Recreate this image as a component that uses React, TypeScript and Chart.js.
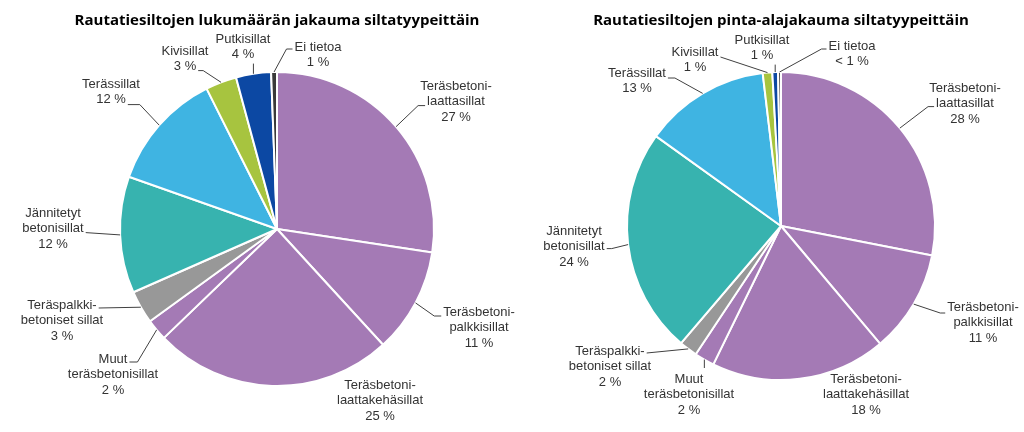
import React, { useEffect, useRef } from "react";
import { Chart, registerables } from "chart.js";

Chart.register(...registerables);

// ---- Data ----
const categories = [
  "Teräsbetonilaattasillat",
  "Teräsbetonipalkkisillat",
  "Teräsbetonilaattakehäsillat",
  "Muut teräsbetonisillat",
  "Teräspalkkibetoniset sillat",
  "Jännitetyt betonisillat",
  "Terässillat",
  "Kivisillat",
  "Putkisillat",
  "Ei tietoa",
];

const categoryLabelLines = [
  ["Teräsbetoni-", "laattasillat"],
  ["Teräsbetoni-", "palkkisillat"],
  ["Teräsbetoni-", "laattakehäsillat"],
  ["Muut", "teräsbetonisillat"],
  ["Teräspalkki-", "betoniset sillat"],
  ["Jännitetyt", "betonisillat"],
  ["Terässillat"],
  ["Kivisillat"],
  ["Putkisillat"],
  ["Ei tietoa"],
];

const countShares = [27.4, 10.8, 24.6, 2.2, 3.4, 12.0, 12.2, 3.2, 3.6, 0.6];
const countPercentLabels = ["27 %", "11 %", "25 %", "2 %", "3 %", "12 %", "12 %", "3 %", "4 %", "1 %"];

const areaShares = [28.1, 10.8, 18.4, 2.1, 1.9, 23.7, 13.2, 1.0, 0.6, 0.3];
const areaPercentLabels = ["28 %", "11 %", "18 %", "2 %", "2 %", "24 %", "13 %", "1 %", "1 %", "< 1 %"];

const countTitle = "Rautatiesiltojen lukumäärän jakauma siltatyypeittäin";
const areaTitle = "Rautatiesiltojen pinta-alajakauma siltatyypeittäin";

// ---- Styles ----
const PURPLE = "#A47AB5";
const sliceColors = [
  PURPLE,
  PURPLE,
  PURPLE,
  PURPLE,
  "#989898",
  "#37B3AF",
  "#3FB4E2",
  "#A7C43F",
  "#0C48A3",
  "#3A3A3A",
];

const LABEL_FONT = "13px 'Liberation Sans', Arial, sans-serif";
const LABEL_COLOR = "#333333";
const LINE_H = 15.6;

type Placement = {
  dx: number; // label first-line centre, relative to pie centre
  dy: number;
  side: "L" | "R" | "T" | "B" | "N";
  line?: number;
  ady?: number;
  elbow?: number;
};

const countPlacements: Placement[] = [
  { dx: 179, dy: -143, side: "L", line: 1, ady: 4, elbow: 7 },
  { dx: 202, dy: 83, side: "L", line: 0, ady: 4, elbow: 7 },
  { dx: 103, dy: 156, side: "N" },
  { dx: -164, dy: 130, side: "R", line: 0, ady: 3, elbow: 8 },
  { dx: -215, dy: 76, side: "R", line: 0, ady: 3, elbow: 0 },
  { dx: -224, dy: -16, side: "R", line: 1, ady: 4, elbow: 0 },
  { dx: -166, dy: -145, side: "R", line: 1, ady: 5, elbow: 12 },
  { dx: -92, dy: -178, side: "R", line: 1, ady: 4, elbow: 5 },
  { dx: -34, dy: -190, side: "B" },
  { dx: 41, dy: -182, side: "L", line: 0, ady: 2, elbow: 6 },
];

const areaPlacements: Placement[] = [
  { dx: 184, dy: -138, side: "L", line: 1, ady: 3, elbow: 6 },
  { dx: 202, dy: 81, side: "L", line: 0, ady: 6, elbow: 5 },
  { dx: 85, dy: 153, side: "N" },
  { dx: -92, dy: 153, side: "T" },
  { dx: -171, dy: 125, side: "R", line: 0, ady: 2, elbow: 0 },
  { dx: -207, dy: 5, side: "R", line: 1, ady: 2, elbow: 5 },
  { dx: -144, dy: -153, side: "R", line: 0, ady: 5, elbow: 7 },
  { dx: -86, dy: -174, side: "R", line: 0, ady: 5, elbow: 0 },
  { dx: -19, dy: -186, side: "B" },
  { dx: 71, dy: -180, side: "L", line: 0, ady: 3, elbow: 5 },
];

const leaderLabelPlugin = {
  id: "leaderLabels",
  afterDatasetsDraw(chart: any, _args: any, opts: any) {
    const ctx: CanvasRenderingContext2D = chart.ctx;
    const meta = chart.getDatasetMeta(0);
    const placements: Placement[] = opts.placements || [];
    const texts: string[][] = opts.texts || [];
    ctx.save();
    ctx.font = LABEL_FONT;
    ctx.fillStyle = LABEL_COLOR;
    ctx.strokeStyle = "#404040";
    ctx.lineWidth = 1;
    ctx.textAlign = "center";
    ctx.textBaseline = "middle";
    meta.data.forEach((arc: any, i: number) => {
      const pl = placements[i];
      const lines = texts[i];
      if (!pl || !lines) return;
      const p = arc.getProps(["x", "y", "startAngle", "endAngle", "outerRadius"], true);
      const mid = (p.startAngle + p.endAngle) / 2;
      const ex = p.x + Math.cos(mid) * p.outerRadius;
      const ey = p.y + Math.sin(mid) * p.outerRadius;
      const tx = p.x + pl.dx;
      const ty = p.y + pl.dy;
      lines.forEach((ln, k) => ctx.fillText(ln, tx, ty + k * LINE_H));
      let pts: [number, number][] = [];
      if (pl.side === "L" || pl.side === "R") {
        const li = pl.line || 0;
        const w = ctx.measureText(lines[li]).width;
        const ly = ty + li * LINE_H + (pl.ady || 0);
        const lx = pl.side === "L" ? tx - w / 2 - 2 : tx + w / 2 + 2;
        const el = pl.elbow || 0;
        pts = [[ex, ey]];
        if (el > 0) pts.push([pl.side === "L" ? lx - el : lx + el, ly]);
        pts.push([lx, ly]);
      } else if (pl.side === "B") {
        pts = [[ex, ey], [ex, ty + (lines.length - 1) * LINE_H + 9]];
      } else if (pl.side === "T") {
        pts = [[ex, ey], [ex, ty - 11]];
      }
      if (pts.length > 1) {
        ctx.beginPath();
        ctx.moveTo(pts[0][0], pts[0][1]);
        for (let k = 1; k < pts.length; k++) ctx.lineTo(pts[k][0], pts[k][1]);
        ctx.stroke();
      }
    });
    ctx.restore();
  },
};

function PieChart(props: {
  title: string;
  values: number[];
  percents: string[];
  placements: Placement[];
  bottom: number;
  radius: number;
  width: number;
  left: number;
}) {
  const ref = useRef<HTMLCanvasElement>(null);
  useEffect(() => {
    if (!ref.current) return;
    const texts = categoryLabelLines.map((l, i) => [...l, props.percents[i]]);
    const chart = new Chart(ref.current, {
      type: "pie",
      data: {
        labels: categories,
        datasets: [
          {
            data: props.values,
            backgroundColor: sliceColors,
            borderColor: "#ffffff",
            borderWidth: 2,
            radius: props.radius,
          } as any,
        ],
      },
      options: {
        animation: false,
        responsive: false,
        layout: { padding: { left: 0, right: 0, top: 0, bottom: props.bottom } },
        plugins: {
          legend: { display: false },
          tooltip: { enabled: false },
          title: {
            display: true,
            text: props.title,
            color: "#000000",
            font: { family: "'Open Sans', sans-serif", size: 15, weight: "bold", lineHeight: 1.3 },
            padding: { top: 11, bottom: 41.5 },
          },
          leaderLabels: { placements: props.placements, texts },
        } as any,
      },
      plugins: [leaderLabelPlugin],
    });
    return () => chart.destroy();
  }, []);
  return (
    <canvas
      ref={ref}
      width={props.width}
      height={432}
      style={{ position: "absolute", left: props.left, top: 0, width: props.width, height: 432, display: "block" }}
    />
  );
}

export default function App() {
  return (
    <div style={{ position: "absolute", left: 0, top: 0, width: 1024, height: 432, background: "#fff", overflow: "hidden" }}>
      <PieChart
        title={countTitle}
        values={countShares}
        percents={countPercentLabels}
        placements={countPlacements}
        bottom={46}
        radius={157}
        width={554}
        left={0}
      />
      <PieChart
        title={areaTitle}
        values={areaShares}
        percents={areaPercentLabels}
        placements={areaPlacements}
        bottom={52}
        radius={154}
        width={486}
        left={538}
      />
    </div>
  );
}
